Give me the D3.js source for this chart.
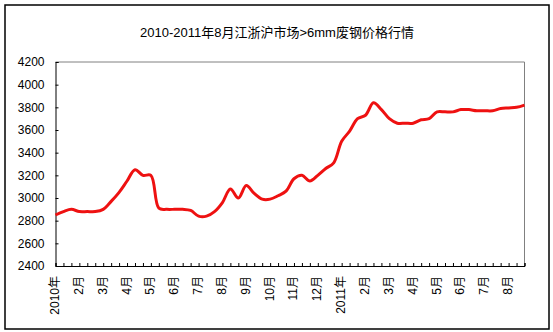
<!DOCTYPE html>
<html><head><meta charset="utf-8">
<script src="https://cdn.jsdelivr.net/npm/d3@7"></script>
<style>
html,body{margin:0;padding:0;background:#fff;}
text{font-family:"Liberation Sans","Noto Sans CJK SC",sans-serif;fill:#000;}
</style></head>
<body><svg id="c" width="553" height="332"></svg>
<script>
const title = "2010-2011年8月江浙沪市场>6mm废钢价格行情";
const monthLabels = ["2010年","2月","3月","4月","5月","6月","7月","8月","9月","10月","11月","12月","2011年","2月","3月","4月","5月","6月","7月","8月"];
const prices = [
 2850,2880,2900,2880,2880,2880,2900,2970,3050,3150,
 3250,3200,3200,2910,2900,2900,2900,2890,2840,2840,
 2880,2960,3080,3000,3110,3040,2990,2990,3020,3060,
 3170,3200,3150,3200,3260,3310,3500,3590,3700,3730,
 3840,3780,3700,3660,3660,3660,3690,3700,3760,3760,
 3760,3780,3780,3770,3770,3770,3790,3795,3800,3820
];
const yTicks = [2400,2600,2800,3000,3200,3400,3600,3800,4000,4200];

const svg = d3.select("#c");
const L = 55.5, R = 524.5, T = 62, B = 266;

svg.append("rect").attr("x",5).attr("y",5).attr("width",544).attr("height",324)
  .attr("fill","#fff").attr("stroke","#000").attr("stroke-width",1.5);

svg.append("text").attr("x",277).attr("y",37).attr("text-anchor","middle")
  .style("font-size","13px").text(title);

const idx = d3.range(prices.length);
const x = d3.scalePoint().domain(idx).range([L,R]);
const y = d3.scaleLinear().domain([2400,4200]).range([B,T]);

// plot frame: top/right gray
svg.append("path").attr("d",`M${L},${T}H${R}V${B}`).attr("fill","none")
  .attr("stroke","#808080").attr("stroke-width",1);

// y axis
const ya = svg.append("g").attr("transform",`translate(${L},0)`)
  .call(d3.axisLeft(y).tickValues(yTicks).tickSize(-3).tickPadding(11).tickFormat(d3.format("d")));
ya.select(".domain").attr("stroke","#000");
ya.selectAll(".tick line").attr("stroke","#000");
ya.selectAll(".tick text").style("font-size","12px").attr("font-family",null);

// x axis
const xa = svg.append("g").attr("transform",`translate(0,${B})`)
  .call(d3.axisBottom(x).tickValues(idx).tickSize(-3).tickFormat(""));
xa.select(".domain").attr("stroke","#000");
xa.selectAll(".tick line").attr("stroke","#000");

svg.append("g").selectAll("text").data(monthLabels).join("text")
  .attr("transform",(d,i)=>`translate(${x(i*3)-0.5},${276}) rotate(-90)`)
  .attr("text-anchor","end").attr("dy","0.33em")
  .style("font-size","12px").text(d=>d);

svg.append("path").datum(prices)
  .attr("fill","none").attr("stroke","#ee1111").attr("stroke-width",3)
  .attr("stroke-linejoin","round")
  .attr("d",d3.line().x((d,i)=>x(i)).y(d=>y(d)).curve(d3.curveCatmullRom.alpha(0.5)));
</script></body></html>
